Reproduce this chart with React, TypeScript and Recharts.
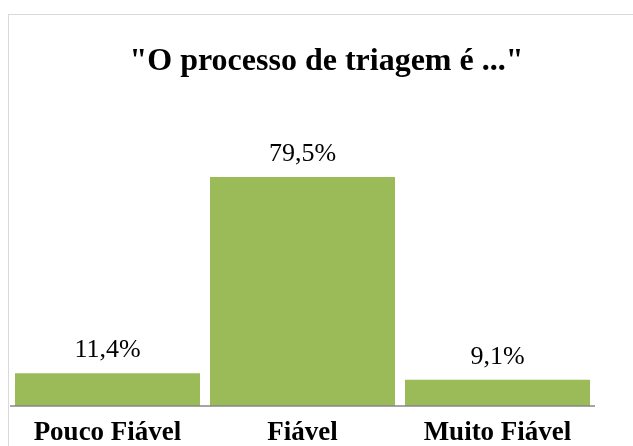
import React from 'react';
import { BarChart, Bar, XAxis, YAxis, LabelList } from 'recharts';

// Chart data
const categories = ['Pouco Fiável', 'Fiável', 'Muito Fiável'];
const percentages = [11.4, 79.5, 9.1];

const BAR_COLOR = '#9BBB59';
const FONT = 'Liberation Serif';

const data = categories.map((name, i) => ({ name, value: percentages[i] }));

const formatPct = (v: number) => v.toFixed(1).replace('.', ',') + '%';

const App: React.FC = () => {
  return (
    <div style={{ position: 'fixed', left: 0, top: 0, width: 633, height: 446, overflow: 'hidden', fontFamily: FONT }}>
      {/* chart frame, runs off the right and bottom edges */}
      <div style={{ position: 'absolute', left: 8, top: 14, width: 640, height: 450, border: '1px solid #d9d9d9', boxSizing: 'border-box' }} />
      <div style={{ position: 'absolute', left: 0, top: 41, width: 653, textAlign: 'center', fontSize: 32, fontWeight: 'bold', lineHeight: '36px', color: '#000', fontFamily: FONT }}>
        "O processo de triagem é ..."
      </div>
      <div style={{ position: 'absolute', left: 0, top: 0 }}>
        <BarChart width={633} height={446} data={data} margin={{ top: 118, right: 38, left: 10, bottom: 0 }}>
          <XAxis
            dataKey="name"
            height={40}
            tickLine={false}
            tickSize={0}
            tickMargin={15}
            axisLine={{ stroke: '#868686', strokeWidth: 1.5 }}
            tick={{ fill: '#000', fontSize: 27, fontWeight: 'bold', fontFamily: FONT }}
            interval={0}
          />
          <YAxis hide domain={[0, 100]} />
          <Bar dataKey="value" fill={BAR_COLOR} barSize={185} isAnimationActive={false}>
            <LabelList
              dataKey="value"
              position="top"
              offset={16}
              formatter={(v: any) => formatPct(Number(v))}
              fill="#000"
              fontSize={26}
              fontFamily={FONT}
            />
          </Bar>
        </BarChart>
      </div>
    </div>
  );
};

export default App;
